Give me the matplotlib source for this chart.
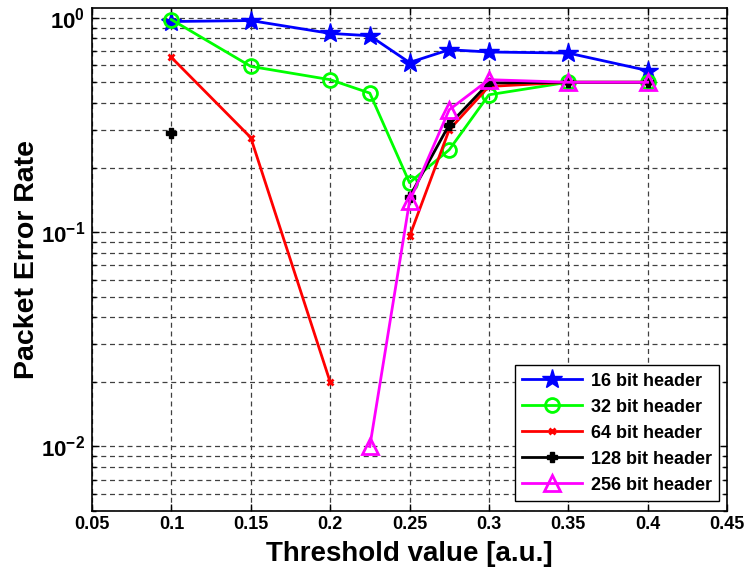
import numpy as np
import matplotlib
matplotlib.use("Agg")
import matplotlib.pyplot as plt
from matplotlib.ticker import NullFormatter, LogLocator

plt.rcParams['font.family'] = ['Liberation Sans', 'DejaVu Sans']
plt.rcParams['font.weight'] = 'bold'
plt.rcParams['mathtext.fontset'] = 'custom'
plt.rcParams['mathtext.rm'] = 'Liberation Sans:bold'
plt.rcParams['mathtext.bf'] = 'Liberation Sans:bold'
plt.rcParams['mathtext.default'] = 'bf'

thresholds = [0.1, 0.15, 0.2, 0.225, 0.25, 0.275, 0.3, 0.35, 0.4]
per_16 = [0.96, 0.97, 0.845, 0.824, 0.618, 0.709, 0.692, 0.684, 0.567]
per_32 = [0.98, 0.593, 0.514, 0.445, 0.170, 0.242, 0.437, 0.50, 0.50]
per_64 = [0.653, 0.276, 0.020, np.nan, 0.0954, 0.30, 0.478, 0.50, 0.50]
per_128 = [0.291, np.nan, np.nan, np.nan, 0.146, 0.317, 0.496, 0.50, 0.50]
per_256 = [np.nan, np.nan, np.nan, 0.010, 0.139, 0.372, 0.514, 0.50, 0.50]
labels = ['16 bit header', '32 bit header', '64 bit header', '128 bit header', '256 bit header']

xticks = [0.05, 0.1, 0.15, 0.2, 0.25, 0.3, 0.35, 0.4, 0.45]
xticklabels = ['0.05', '0.1', '0.15', '0.2', '0.25', '0.3', '0.35', '0.4', '0.45']
yticks = [1e-2, 1e-1, 1e0]
yticklabels = [r'$10^{-2}$', r'$10^{-1}$', r'$10^{0}$']

fig = plt.figure(figsize=(7.46, 5.74), dpi=100)
ax = fig.add_axes([92/746, 1-511/574, (727-92)/746, (511-8)/574])

ax.plot(thresholds, per_16, color='#0000ff', lw=2, marker='*', ms=15, label=labels[0])
ax.plot(thresholds, per_32, color='#00ff00', lw=2, marker='o', ms=10, mfc='none', mew=2, label=labels[1])
ax.plot(thresholds, per_64, color='#ff0000', lw=2, marker='x', ms=5, mew=2, label=labels[2])
ax.plot(thresholds, per_128, color='#000000', lw=2, marker='P', ms=7, label=labels[3])
ax.plot(thresholds, per_256, color='#ff00ff', lw=2, marker='^', ms=11, mfc='none', mew=2, label=labels[4])

ax.set_yscale('log')
ax.set_xlim(0.05, 0.45)
ax.set_ylim(0.005, 1.11)
ax.set_xticks(xticks)
ax.set_xticklabels(xticklabels)
ax.set_yticks(yticks)
ax.set_yticklabels(yticklabels)
ax.yaxis.set_minor_locator(LogLocator(base=10, subs=np.arange(2, 10)))
ax.yaxis.set_minor_formatter(NullFormatter())

ax.tick_params(axis='both', which='both', direction='in', top=True, right=True)
ax.tick_params(axis='x', which='major', labelsize=13)
ax.tick_params(axis='y', which='major', labelsize=16, pad=5)
ax.tick_params(axis='both', which='major', length=5, width=1)
ax.tick_params(axis='y', which='minor', length=3, width=1)
for lbl in ax.get_xticklabels() + ax.get_yticklabels():
    lbl.set_fontweight('bold')

gkw = dict(color='0.25', linestyle=(0, (4, 3)), linewidth=0.9)
ax.grid(True, which='major', axis='both', **gkw)
ax.grid(True, which='minor', axis='y', **gkw)
ax.set_axisbelow(True)
for s in ax.spines.values():
    s.set_linewidth(1.2)

ax.set_xlabel('Threshold value [a.u.]', fontsize=20, fontweight='bold', labelpad=6)
ax.set_ylabel('Packet Error Rate', fontsize=20.5, fontweight='bold')
ax.yaxis.set_label_coords(-0.082, 0.5)

leg = ax.legend(loc='lower right', bbox_to_anchor=(1 - 8/635, 10/503), borderaxespad=0,
                prop={'size': 13, 'weight': 'bold'}, fancybox=False, edgecolor='black',
                framealpha=1, handlelength=3.3, labelspacing=0.5, borderpad=0.4, handletextpad=0.5)
leg.get_frame().set_linewidth(1)

fig.savefig('out.png', dpi=100)
